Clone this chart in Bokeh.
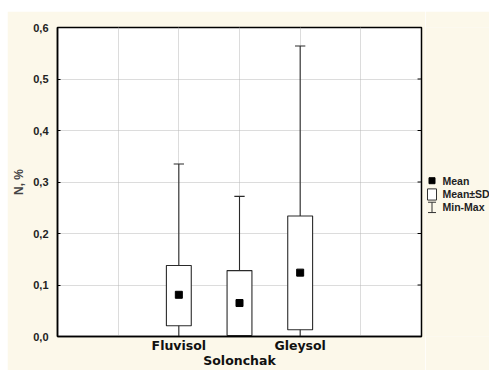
from bokeh.plotting import figure
from bokeh.models import FixedTicker, ColumnDataSource, Range1d, Spacer
from bokeh.layouts import row, column
from bokeh.core.properties import value
from bokeh.embed import file_html
from bokeh.resources import INLINE

categories = ["Fluvisol", "Solonchak", "Gleysol"]
positions = [2, 3, 4]
mean_vals = [0.081, 0.065, 0.124]
sd_low = [0.021, 0.002, 0.013]
sd_high = [0.138, 0.128, 0.234]
min_vals = [0.0, 0.0, 0.0]
max_vals = [0.335, 0.272, 0.564]
y_ticks = [0.0, 0.1, 0.2, 0.3, 0.4, 0.5, 0.6]
y_tick_labels = ["0,0", "0,1", "0,2", "0,3", "0,4", "0,5", "0,6"]
legend_labels = ["Mean", "Mean\u00B1SD", "Min-Max"]

cream = "#fcf8ea"
edge = "#2a2a2a"
box_w = 0.41
cap_w = 0.17
x_lo, x_hi = 0, 6

src = ColumnDataSource(dict(
    x=positions, mean=mean_vals, lo=sd_low, hi=sd_high, mn=min_vals, mx=max_vals,
    cl=[p - cap_w / 2 for p in positions], cr=[p + cap_w / 2 for p in positions],
))

p = figure(width=418, height=359, x_range=(x_lo, x_hi), y_range=(0, 0.6),
           output_backend="svg", toolbar_location=None,
           min_border_left=50, min_border_right=4, min_border_top=16, min_border_bottom=28)
p.border_fill_color = cream
p.background_fill_color = "white"
p.outline_line_color = "black"
p.outline_line_width = 1.5

# grid
p.xgrid.ticker = FixedTicker(ticks=[1, 2, 3, 4, 5])
p.ygrid.ticker = FixedTicker(ticks=[0.1, 0.2, 0.3, 0.4, 0.5])
for g in (p.xgrid[0], p.ygrid[0]):
    g.grid_line_color = "#b8b8b8"
    g.grid_line_dash = "1 1"
    g.grid_line_width = 1

# inward tick marks on the right spine
tick_len = 0.065
p.segment(x0=[x_hi] * len(y_ticks), x1=[x_hi - tick_len] * len(y_ticks), y0=y_ticks, y1=y_ticks,
          line_color="black", line_width=1)

# whiskers + caps
p.segment(x0="x", y0="mn", x1="x", y1="mx", source=src, line_color=edge, line_width=1.1)
p.segment(x0="cl", y0="mx", x1="cr", y1="mx", source=src, line_color=edge, line_width=1.1)
p.segment(x0="cl", y0="mn", x1="cr", y1="mn", source=src, line_color=edge, line_width=1.1)
# mean +- SD boxes
p.vbar(x="x", bottom="lo", top="hi", width=box_w, source=src,
       fill_color="white", line_color=edge, line_width=1.1)
# means
p.scatter(x="x", y="mean", source=src, marker="square", size=7,
          fill_color="black", line_color="black")

# axes
xa = p.xaxis[0]
xa.ticker = FixedTicker(ticks=positions)
xa.major_label_overrides = {2: categories[0], 3: "\n" + categories[1], 4: categories[2]}
xa.major_label_text_font = "DejaVu Sans"
xa.major_label_text_font_style = "bold"
xa.major_label_text_font_size = "12.5px"
xa.major_label_text_line_height = 1.0
xa.major_label_text_color = "#111111"
xa.major_tick_in = 0
xa.major_tick_out = 0
xa.minor_tick_in = 0
xa.minor_tick_out = 0
xa.axis_line_color = "black"
xa.axis_line_width = 1.5
xa.major_label_standoff = 1

ya = p.yaxis[0]
ya.ticker = FixedTicker(ticks=y_ticks)
ya.major_label_overrides = {t: l for t, l in zip(y_ticks, y_tick_labels)}
ya.major_label_text_font = "Liberation Sans"
ya.major_label_text_font_style = "bold"
ya.major_label_text_font_size = "11px"
ya.major_label_text_color = "#222222"
ya.major_tick_in = 3
ya.major_tick_out = 0
ya.minor_tick_in = 0
ya.minor_tick_out = 0
ya.axis_line_color = "black"
ya.axis_line_width = 1.5
ya.major_label_standoff = 9
ya.axis_label = "N, %"
ya.axis_label_text_font = "Liberation Sans"
ya.axis_label_text_font_style = "bold"
ya.axis_label_text_font_size = "12px"
ya.axis_label_standoff = 4

# legend panel (separate small canvas to the right of the plot)
lg = figure(width=64, height=359, x_range=Range1d(0, 64), y_range=Range1d(359, 0),
            output_backend="svg", toolbar_location=None, min_border=0,
            x_axis_location=None, y_axis_location=None)
lg.grid.visible = False
lg.outline_line_color = None
lg.background_fill_color = cream
lg.border_fill_color = cream

row_y = [178, 194, 209]
icon_x = 6.5
lg.scatter(x=[icon_x], y=[row_y[0]], marker="square", size=6, fill_color="black", line_color="black")
lg.quad(left=[icon_x - 4.5], right=[icon_x + 4.5], top=[row_y[1] - 6.5], bottom=[row_y[1] + 6.5],
        fill_color="white", line_color="#333333", line_width=1)
lg.segment(x0=[icon_x, icon_x - 4, icon_x - 4], y0=[row_y[2] - 6, row_y[2] - 6, row_y[2] + 6],
           x1=[icon_x, icon_x + 4, icon_x + 4], y1=[row_y[2] + 6, row_y[2] - 6, row_y[2] + 6],
           line_color="#333333", line_width=1)
lg.text(x=[17, 17, 17], y=row_y, text=legend_labels, text_font=value("Liberation Sans"),
        text_font_style="bold", text_font_size="10.5px", text_baseline="middle",
        text_align="left", text_color="#222222")

layout = column(Spacer(width=489, height=11),
                row(Spacer(width=7, height=359), p, lg))

open("out.html", "w").write(file_html(layout, INLINE))
